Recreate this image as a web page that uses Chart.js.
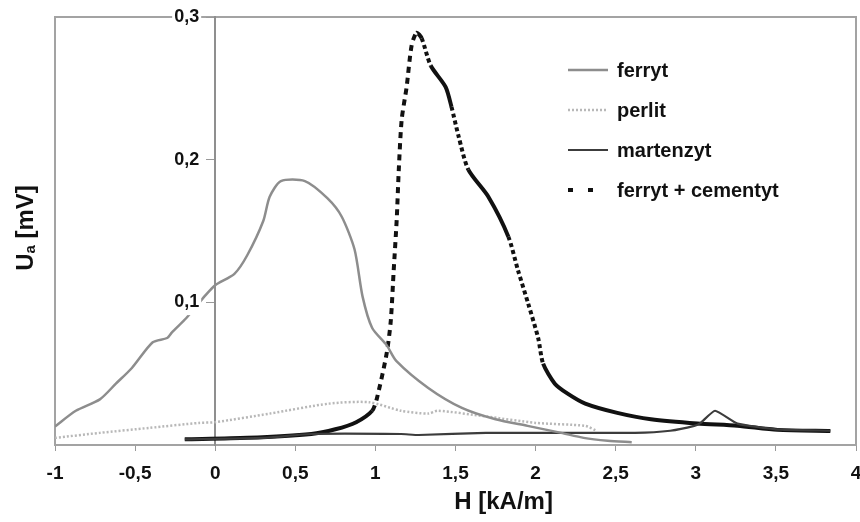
<!DOCTYPE html>
<html>
<head>
<meta charset="utf-8">
<script src="https://cdn.jsdelivr.net/npm/chart.js@4.4.0/dist/chart.umd.min.js"></script>
<style>
  html, body { margin: 0; padding: 0; background: #fff; }
  #grafica { display: block; }
</style>
</head>
<body>
<canvas id="grafica" width="860" height="522"></canvas>
<script>
/*global Chart*/

// Datos: H [kA/m] y Ua [mV] de cada serie
const ferrytH = [-1.0, -0.87, -0.72, -0.62, -0.52, -0.39, -0.3, -0.27, -0.18, -0.06, 0.0, 0.12, 0.2, 0.3, 0.34, 0.41, 0.56, 0.7, 0.79, 0.87, 0.92, 0.98, 1.07, 1.13, 1.33, 1.54, 1.75, 1.95, 2.16, 2.3, 2.45, 2.6];
const ferrytU = [0.013, 0.024, 0.032, 0.043, 0.054, 0.072, 0.075, 0.079, 0.089, 0.105, 0.112, 0.12, 0.133, 0.157, 0.174, 0.185, 0.185, 0.173, 0.16, 0.137, 0.104, 0.082, 0.07, 0.059, 0.04, 0.026, 0.018, 0.0134, 0.0085, 0.005, 0.003, 0.002];

const perlitH = [-1.0, -0.72, -0.41, -0.1, 0.0, 0.34, 0.71, 0.96, 1.16, 1.33, 1.39, 1.69, 2.0, 2.31, 2.38];
const perlitU = [0.005, 0.0085, 0.012, 0.0155, 0.016, 0.022, 0.029, 0.03, 0.024, 0.022, 0.024, 0.02, 0.0155, 0.0134, 0.01];

const martenzytH = [-0.19, 0.3, 0.6, 1.16, 1.27, 1.69, 2.1, 2.62, 2.84, 2.99, 3.03, 3.12, 3.26, 3.5, 3.84];
const martenzytU = [0.004, 0.005, 0.0077, 0.0077, 0.007, 0.0085, 0.0085, 0.0085, 0.01, 0.0134, 0.0155, 0.024, 0.015, 0.011, 0.01];

const cementytH = [-0.19, 0.2, 0.6, 0.75, 0.88, 0.98, 1.01, 1.07, 1.096, 1.114, 1.133, 1.146, 1.164, 1.195, 1.226, 1.257, 1.289, 1.345, 1.438, 1.475, 1.52, 1.58, 1.705, 1.83, 1.89, 1.954, 2.016, 2.047, 2.12, 2.2, 2.31, 2.51, 2.72, 3.01, 3.26, 3.51, 3.84];
const cementytU = [0.004, 0.005, 0.0077, 0.011, 0.016, 0.024, 0.033, 0.064, 0.087, 0.122, 0.158, 0.193, 0.228, 0.251, 0.28, 0.289, 0.285, 0.266, 0.251, 0.237, 0.216, 0.193, 0.174, 0.146, 0.1225, 0.099, 0.075, 0.057, 0.043, 0.036, 0.029, 0.0225, 0.018, 0.015, 0.0135, 0.0106, 0.0099];

const etiquetas = ["ferryt", "perlit", "martenzyt", "ferryt + cementyt"];
const tituloX = "H [kA/m]";
const tituloY = ["U", "a", " [mV]"];

// Tramos de la curva ferryt + cementyt que se ven discontinuos
const tramosRayados = [[0.98, 1.26]];
const tramosPunteados = [[1.26, 1.35], [1.45, 1.6], [1.8, 2.05]];

const fuente = '"Liberation Sans", Arial, sans-serif';

function puntos(xs, ys) {
    return xs.map((x, i) => ({ x: x, y: ys[i] }));
}

function dentro(tramos, a, b) {
    return tramos.some(t => a >= t[0] - 1e-6 && b <= t[1] + 1e-6);
}

function estiloTramo(ctx) {
    const a = ctx.p0.parsed.x, b = ctx.p1.parsed.x;
    if (dentro(tramosRayados, a, b)) return [6, 5];
    if (dentro(tramosPunteados, a, b)) return [4, 3];
    return [];
}

function conComa(v) {
    return String(Math.round(v * 10) / 10).replace('.', ',');
}

// Marco gris alrededor del área del gráfico
const marco = {
    id: 'marco',
    beforeDraw(chart) {
        const { ctx, chartArea: a } = chart;
        ctx.save();
        ctx.fillStyle = '#fff';
        ctx.fillRect(0, 0, chart.width, chart.height);
        ctx.strokeStyle = '#a3a3a3';
        ctx.lineWidth = 2;
        ctx.strokeRect(a.left, a.top, a.right - a.left, a.bottom - a.top);
        ctx.restore();
    }
};

// Leyenda dentro del área y títulos de los ejes
const leyendaYTitulos = {
    id: 'leyendaYTitulos',
    afterDraw(chart) {
        const ctx = chart.ctx;
        const a = chart.chartArea;
        ctx.save();

        // leyenda
        const x0 = a.left + 513, y0 = a.top + 53, paso = 40;
        chart.data.datasets.forEach((ds, i) => {
            const y = y0 + i * paso;
            ctx.beginPath();
            ctx.strokeStyle = ds.borderColor;
            ctx.lineWidth = ds.borderWidth;
            ctx.setLineDash(ds.muestraRayas || []);
            ctx.moveTo(x0, y);
            ctx.lineTo(x0 + 40, y);
            ctx.stroke();
            ctx.setLineDash([]);
            ctx.fillStyle = '#111';
            ctx.font = 'bold 20px ' + fuente;
            ctx.textBaseline = 'middle';
            ctx.textAlign = 'left';
            ctx.fillText(ds.label, x0 + 49, y + 1);
        });

        // título del eje X
        ctx.fillStyle = '#111';
        ctx.font = 'bold 24px ' + fuente;
        ctx.textAlign = 'center';
        ctx.textBaseline = 'middle';
        ctx.fillText(tituloX, chart.scales.x.getPixelForValue(1.8), 502);

        // título del eje Y con subíndice
        ctx.translate(26, 228);
        ctx.rotate(-Math.PI / 2);
        const fGrande = 'bold 24px ' + fuente, fChica = 'bold 15px ' + fuente;
        ctx.font = fGrande;
        const w1 = ctx.measureText(tituloY[0]).width;
        const w3 = ctx.measureText(tituloY[2]).width;
        ctx.font = fChica;
        const w2 = ctx.measureText(tituloY[1]).width;
        let x = -(w1 + w2 + w3) / 2;
        ctx.textAlign = 'left';
        ctx.font = fGrande;
        ctx.fillText(tituloY[0], x, 0);
        x += w1;
        ctx.font = fChica;
        ctx.fillText(tituloY[1], x, 5);
        x += w2;
        ctx.font = fGrande;
        ctx.fillText(tituloY[2], x, 0);
        ctx.restore();
    }
};

const rangoY = { min: 0, max: 0.3 };

new Chart(document.getElementById('grafica').getContext('2d'), {
    type: 'line',
    data: {
        datasets: [
            {
                label: etiquetas[0],
                data: puntos(ferrytH, ferrytU),
                borderColor: '#8d8d8d',
                borderWidth: 2.5,
                tension: 0.25
            },
            {
                label: etiquetas[1],
                data: puntos(perlitH, perlitU),
                borderColor: '#b8b8b8',
                borderWidth: 2.5,
                borderDash: [2, 2],
                muestraRayas: [2, 2],
                tension: 0.25
            },
            {
                label: etiquetas[2],
                data: puntos(martenzytH, martenzytU),
                borderColor: '#3c3c3c',
                borderWidth: 2.2,
                tension: 0.15
            },
            {
                label: etiquetas[3],
                data: puntos(cementytH, cementytU),
                borderColor: '#111',
                borderWidth: 4,
                muestraRayas: [5, 15],
                tension: 0.25,
                segment: { borderDash: estiloTramo }
            }
        ]
    },
    options: {
        responsive: false,
        animation: false,
        devicePixelRatio: 1,
        layout: { padding: { left: 55, right: 4, top: 17, bottom: 0 } },
        elements: { point: { radius: 0 } },
        plugins: {
            legend: { display: false },
            tooltip: { enabled: false }
        },
        scales: {
            x: {
                type: 'linear',
                min: -1,
                max: 4,
                position: 'bottom',
                afterFit: s => { s.height = 77; s.paddingLeft = 0; s.paddingRight = 0; },
                border: { display: true, color: '#a3a3a3', width: 2 },
                grid: { drawOnChartArea: false, drawTicks: true, tickLength: 6, color: '#999' },
                ticks: {
                    stepSize: 0.5,
                    autoSkip: false,
                    maxRotation: 0,
                    padding: 11,
                    color: '#111',
                    font: { family: fuente, size: 19, weight: 'bold' },
                    callback: v => conComa(v)
                }
            },
            // eje vertical en H = 0, con sus marcas
            y: {
                type: 'linear',
                min: rangoY.min,
                max: rangoY.max,
                position: { x: 0 },
                afterFit: s => { s.paddingTop = 0; s.paddingBottom = 0; },
                border: { display: true, color: '#8f8f8f', width: 2 },
                grid: { drawOnChartArea: false, drawTicks: true, tickLength: 8, color: '#999' },
                ticks: { stepSize: 0.1, display: false }
            },
            // rótulos del eje vertical, algo a la izquierda de la línea
            yRotulos: {
                type: 'linear',
                axis: 'y',
                min: rangoY.min,
                max: rangoY.max,
                position: { x: -0.1 },
                afterBuildTicks: s => { s.ticks = s.ticks.filter(t => t.value > 1e-9); },
                afterFit: s => { s.paddingTop = 0; s.paddingBottom = 0; },
                border: { display: false },
                grid: { display: false },
                ticks: {
                    stepSize: 0.1,
                    z: 1,
                    showLabelBackdrop: true,
                    backdropColor: '#fff',
                    backdropPadding: 2,
                    color: '#111',
                    font: { family: fuente, size: 18, weight: 'bold' },
                    callback: v => conComa(v)
                }
            }
        }
    },
    plugins: [marco, leyendaYTitulos]
});
</script>
</body>
</html>
